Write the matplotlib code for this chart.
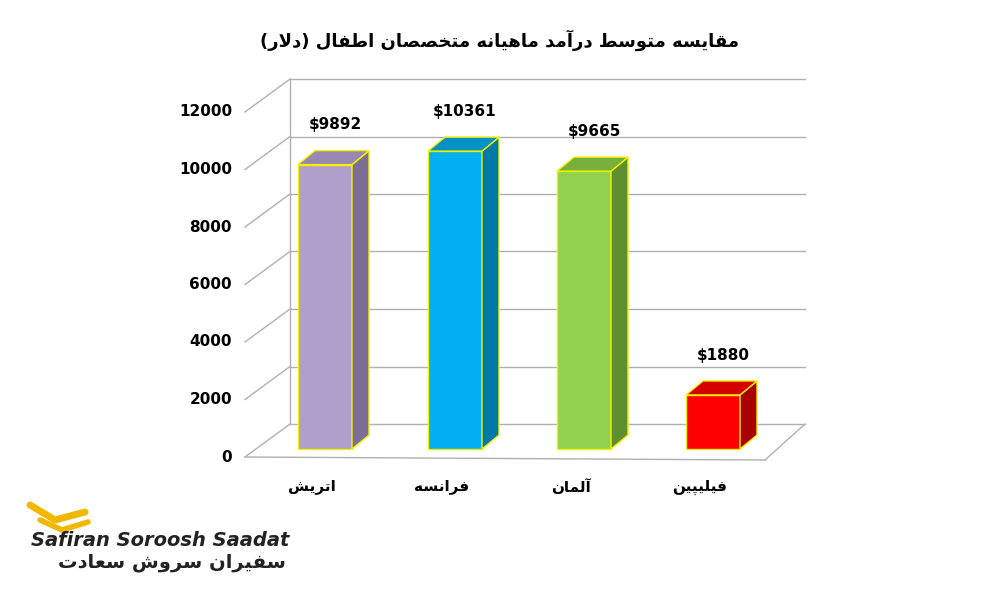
import matplotlib
matplotlib.use("Agg")
import matplotlib.pyplot as plt
from matplotlib.patches import Polygon

categories = ["اتریش", "فرانسه", "آلمان", "فیلیپین"]
values = [9892, 10361, 9665, 1880]
value_labels = ["$9892", "$10361", "$9665", "$1880"]
yticks = [0, 2000, 4000, 6000, 8000, 10000, 12000]
title = "مقایسه متوسط درآمد ماهیانه متخصصان اطفال (دلار)"
front_c = ["#B09FCA", "#00B0F0", "#92D050", "#FF0000"]
side_c = ["#7D6E96", "#0079A6", "#5F8F2E", "#A80000"]
top_c = ["#9886B3", "#0092C6", "#77AE3C", "#D40000"]

FORMS = {
 'ا': (0xFE8D, 0xFE8E, None, None), 'آ': (0xFE81, 0xFE82, None, None),
 'د': (0xFEA9, 0xFEAA, None, None), 'ر': (0xFEAD, 0xFEAE, None, None),
 'و': (0xFEED, 0xFEEE, None, None),
 'ت': (0xFE95, 0xFE96, 0xFE97, 0xFE98), 'پ': (0xFB56, 0xFB57, 0xFB58, 0xFB59),
 'ن': (0xFEE5, 0xFEE6, 0xFEE7, 0xFEE8), 'س': (0xFEB1, 0xFEB2, 0xFEB3, 0xFEB4),
 'ش': (0xFEB5, 0xFEB6, 0xFEB7, 0xFEB8), 'ص': (0xFEB9, 0xFEBA, 0xFEBB, 0xFEBC),
 'ط': (0xFEC1, 0xFEC2, 0xFEC3, 0xFEC4), 'ف': (0xFED1, 0xFED2, 0xFED3, 0xFED4),
 'ق': (0xFED5, 0xFED6, 0xFED7, 0xFED8), 'ل': (0xFEDD, 0xFEDE, 0xFEDF, 0xFEE0),
 'م': (0xFEE1, 0xFEE2, 0xFEE3, 0xFEE4), 'ه': (0xFEE9, 0xFEEA, 0xFEEB, 0xFEEC),
 'خ': (0xFEA5, 0xFEA6, 0xFEA7, 0xFEA8), 'ی': (0xFBFC, 0xFBFD, 0xFBFE, 0xFBFF),
 'ع': (0xFEC9, 0xFECA, 0xFECB, 0xFECC),
}

def shape(s):
    chars = list(s)
    out = []
    i = 0
    n = len(chars)
    def joins_next(c):
        return c in FORMS and FORMS[c][2] is not None
    while i < n:
        c = chars[i]
        if c not in FORMS:
            out.append(c); i += 1; continue
        prev_join = i > 0 and joins_next(chars[i-1])
        if c == 'ل' and i + 1 < n and chars[i+1] == 'ا':
            out.append(chr(0xFEFC if prev_join else 0xFEFB)); i += 2; continue
        nxt = i + 1 < n and chars[i+1] in FORMS
        f = FORMS[c]
        can_next = f[2] is not None and nxt
        if prev_join and can_next:
            out.append(chr(f[3]))
        elif prev_join:
            out.append(chr(f[1]))
        elif can_next:
            out.append(chr(f[2]))
        else:
            out.append(chr(f[0]))
        i += 1
    r = ''.join(reversed(out))
    return r.translate(str.maketrans("()", ")("))

plt.rcParams["font.family"] = "DejaVu Sans"
fig = plt.figure(figsize=(10, 6), dpi=100)
ax = fig.add_axes([0, 0, 1, 1])
PX = 1000 / 28.75  # value units per pixel
def V(py):  # pixel-from-top -> value coordinate
    return (457 - py) * PX
ax.set_xlim(0, 1000)
ax.set_ylim(V(600), V(0))
ax.axis("off")

grid = "#B0B0B0"
back = 33 * PX
for t in yticks:
    ax.plot([245, 290], [t, t + back], color=grid, lw=1)
    ax.plot([290, 805], [t + back, t + back], color=grid, lw=1)
    ax.text(232, t, str(t), ha="right", va="center", fontsize=11, fontweight="bold")
ax.plot([290, 290], [back, 12000 + back], color=grid, lw=1)
ax.plot([245, 765], [0, -3 * PX], color=grid, lw=1)
ax.plot([765, 805], [-3 * PX, back], color=grid, lw=1)

centers = [325, 455, 584, 713]
w = 54
b0 = 8 * PX
dx, dy = 17, 14 * PX
for i, v in enumerate(values):
    x0 = centers[i] - w / 2
    x1 = x0 + w
    top = v + b0
    ax.bar(centers[i], v, width=w, bottom=b0, color=front_c[i], edgecolor="#F2F200", lw=1, zorder=3)
    ax.add_patch(Polygon([(x1, b0), (x1 + dx, b0 + dy), (x1 + dx, top + dy), (x1, top)],
                         fc=side_c[i], ec="#F2F200", lw=1, zorder=3))
    ax.add_patch(Polygon([(x0, top), (x1, top), (x1 + dx, top + dy), (x0 + dx, top + dy)],
                         fc=top_c[i], ec="#F2F200", lw=1, zorder=3))
    ax.text(centers[i] + 10, top + dy + 900, value_labels[i], ha="center", va="center",
            fontsize=11, fontweight="bold", zorder=4)
    ax.text(centers[i] - 13, V(487), shape(categories[i]), ha="center", va="center",
            fontsize=11, fontweight="bold")

ax.text(500, V(40), shape(title), ha="center", va="center", fontsize=13, fontweight="bold")

ax.text(160, V(541), "Safiran Soroosh Saadat", ha="center", va="center",
        fontsize=14, fontweight="bold", style="italic", color="#222222")
ax.text(172, V(563), shape("سفیران سروش سعادت"), ha="center", va="center",
        fontsize=14, fontweight="bold", color="#222222")
ax.plot([30, 55, 85], [V(505), V(520), V(512)], color="#F2B800", lw=5, solid_capstyle="round")
ax.plot([40, 62, 88], [V(520), V(530), V(522)], color="#F2B800", lw=4, solid_capstyle="round")

fig.savefig("out.png", dpi=100, facecolor="white")
